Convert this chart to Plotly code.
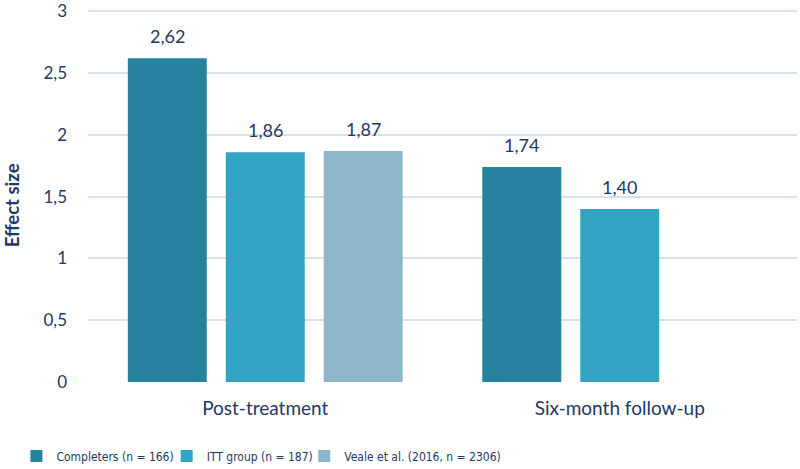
import plotly.graph_objects as go

categories = ["Post-treatment", "Six-month follow-up"]
series_names = ["Completers (n = 166)", "ITT group (n = 187)", "Veale et al. (2016, n = 2306)"]
completers = [2.62, 1.74]
itt_group = [1.86, 1.40]
veale = [1.87, None]
y_ticks = [0, 0.5, 1, 1.5, 2, 2.5, 3]
y_title = "Effect size"

series_values = [completers, itt_group, veale]
colors = ["#2782A0", "#33A3C3", "#8DB6C8"]
navy = "#1F3864"
font_family = "Lato, 'Open Sans', sans-serif"
legend_font = "'DejaVu Sans Condensed', Lato, sans-serif"
legend_ids = ["legend", "legend2", "legend3"]
legend_x = [-0.101, 0.111, 0.305]

fig = go.Figure()
for name, vals, col, lid in zip(series_names, series_values, colors, legend_ids):
    fig.add_trace(go.Bar(
        x=categories, y=vals, name=name, legend=lid,
        marker=dict(color=col, line=dict(width=0)),
        hoverinfo="x+y+name",
    ))

# value labels above each bar
slot_px = 98
for i, vals in enumerate(series_values):
    for cat, v in zip(categories, vals):
        if v is None:
            continue
        fig.add_annotation(
            x=cat, y=v, xref="x", yref="y",
            text=f"{v:.2f}".replace(".", ","),
            showarrow=False, xshift=(i - 1) * slot_px, yshift=22,
            yanchor="middle",
            font=dict(size=18, color=navy, family=font_family),
        )

# y axis title
fig.add_annotation(
    text=f"<b>{y_title}</b>", xref="paper", yref="paper", x=-0.108, y=0.476,
    xanchor="center", yanchor="middle", textangle=-90, showarrow=False,
    font=dict(size=18.5, color=navy, family=font_family),
)

legend_common = dict(orientation="h", xanchor="left", y=-0.199, yanchor="middle",
                     font=dict(size=12, color=navy, family=legend_font),
                     itemwidth=30, bgcolor="rgba(0,0,0,0)")
legends = {}
for lid, lx in zip(legend_ids, legend_x):
    legends[lid] = dict(legend_common, x=lx)

fig.update_layout(
    width=800, height=469,
    margin=dict(l=88, r=3, t=10, b=87, autoexpand=False),
    plot_bgcolor="white", paper_bgcolor="white",
    separators=", ",
    barmode="group", bargap=0.171, bargroupgap=0.194,
    font=dict(family=font_family, color=navy, size=17),
    showlegend=True,
    **legends,
    xaxis=dict(showgrid=False, showline=False, ticks="", ticklabelstandoff=13,
               tickfont=dict(size=19, color=navy), range=[-0.5, 1.5]),
    yaxis=dict(range=[0, 3.01], tickvals=y_ticks, tickformat=",.1~f",
               showgrid=True, gridcolor="#D9E2EC", gridwidth=2,
               zeroline=False, showline=False, ticks="", ticklabelstandoff=20,
               ticklabeloverflow="allow",
               tickfont=dict(size=17, color=navy)),
)

# remove the browser's default 8px body margin so the 800x469 figure fills the window
fig.write_html("out.html", config={"displayModeBar": False},
               post_script="document.body.style.margin='0px';")
